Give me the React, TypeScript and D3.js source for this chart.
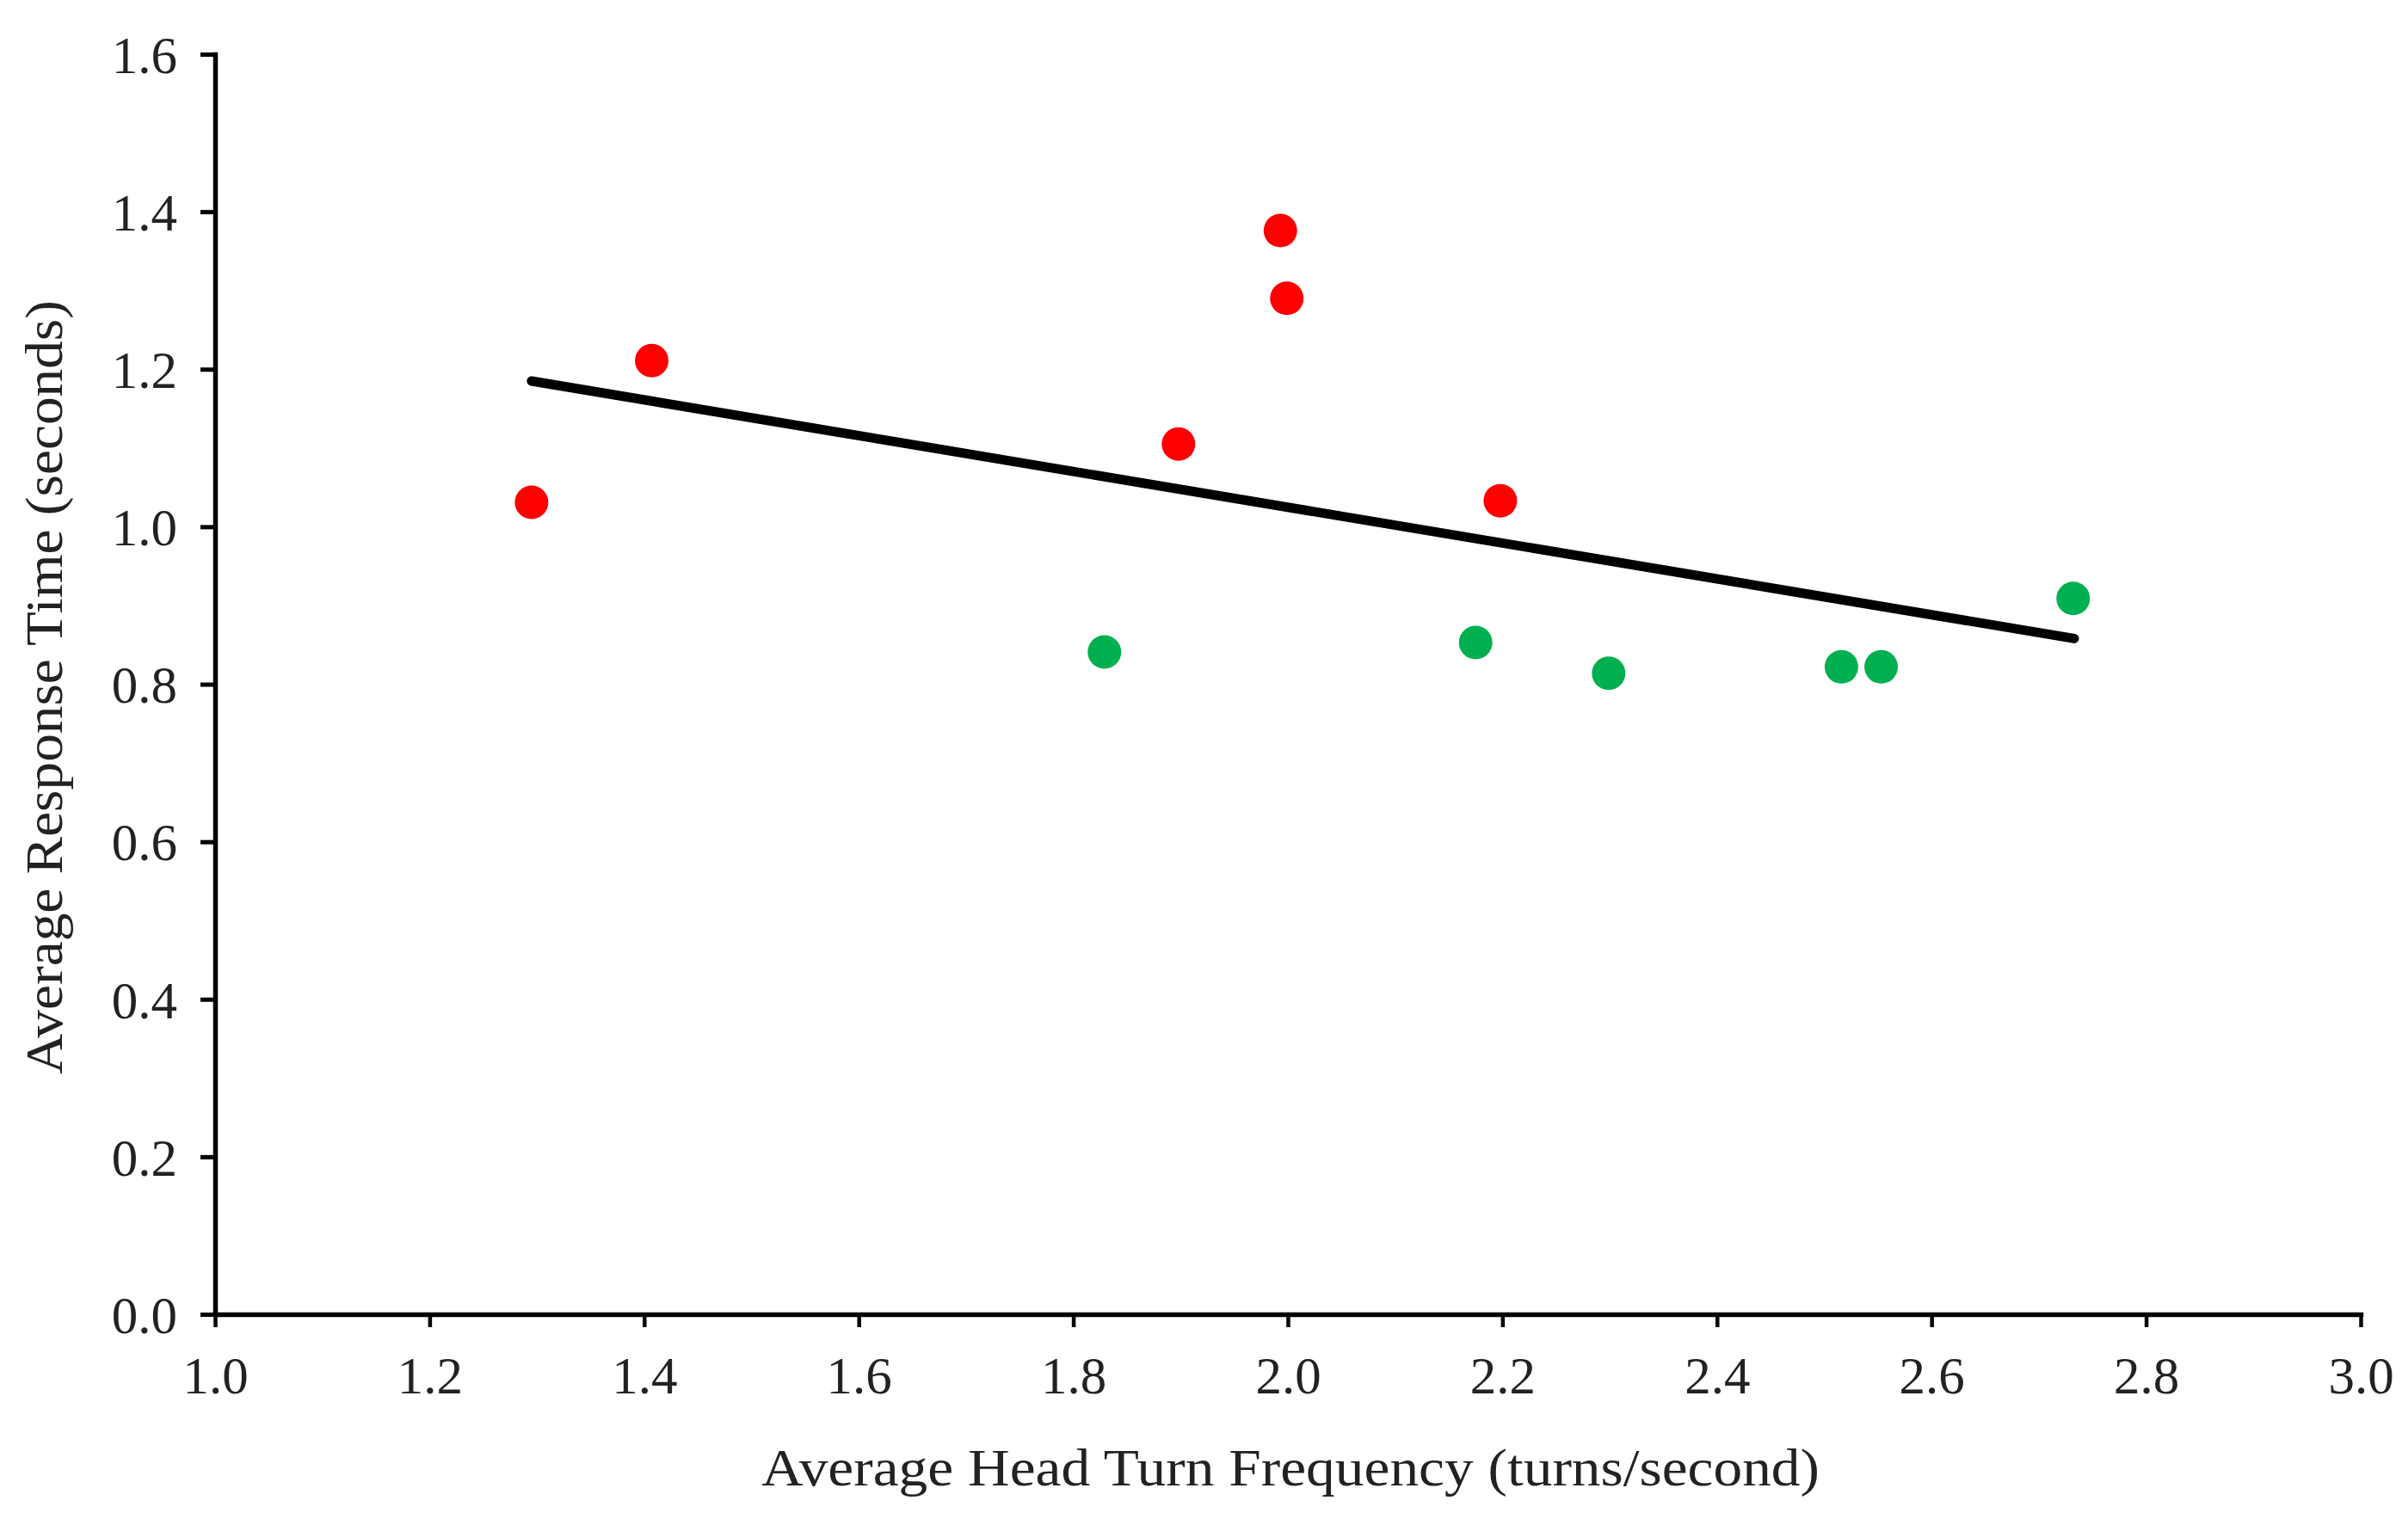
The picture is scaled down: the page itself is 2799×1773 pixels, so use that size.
import { useRef, useEffect } from "react";
import * as d3 from "d3";

// Participants with slower reactions (red) and faster reactions (green)
const redX = [1.295, 1.407, 1.898, 1.993, 1.999, 2.198];
const redY = [1.031, 1.211, 1.105, 1.376, 1.290, 1.033];
const greenX = [1.829, 2.175, 2.299, 2.516, 2.553, 2.732];
const greenY = [0.841, 0.853, 0.814, 0.822, 0.822, 0.909];

// Linear trend line end points
const trendX = [1.295, 2.733];
const trendY = [1.185, 0.858];

const xTicks = [1.0, 1.2, 1.4, 1.6, 1.8, 2.0, 2.2, 2.4, 2.6, 2.8, 3.0];
const yTicks = [0.0, 0.2, 0.4, 0.6, 0.8, 1.0, 1.2, 1.4, 1.6];

const xTitle = "Average Head Turn Frequency (turns/second)";
const yTitle = "Average Response Time (seconds)";

const WIDTH = 2799;
const HEIGHT = 1773;
const FONT = "'Liberation Serif', 'DejaVu Serif', serif";

export default function App() {
  const svgRef = useRef<SVGSVGElement>(null);

  const margin = { top: 63, right: 55, bottom: 245, left: 250 };
  const innerW = WIDTH - margin.left - margin.right;
  const innerH = HEIGHT - margin.top - margin.bottom;

  useEffect(() => {
    document.body.style.margin = "0";
    if (!svgRef.current) return;

    const svg = d3.select(svgRef.current);
    svg.selectAll("*").remove();

    const g = svg
      .append("g")
      .attr("transform", `translate(${margin.left},${margin.top})`);

    const xScale = d3.scaleLinear().domain([1, 3]).range([0, innerW]);
    const yScale = d3.scaleLinear().domain([0, 1.6]).range([innerH, 0]);

    // Axes
    g.append("g")
      .attr("transform", `translate(0,${innerH})`)
      .call(d3.axisBottom(xScale).tickValues(xTicks).tickSize(15).tickSizeOuter(0).tickFormat(d3.format(".1f")))
      .call(a => a.select(".domain").attr("stroke", "#000").attr("stroke-width", 5.5).attr("stroke-linecap", "square"))
      .call(a => a.selectAll(".tick line").attr("stroke", "#000").attr("stroke-width", 4.5))
      .call(a => a.selectAll(".tick text")
        .attr("fill", "#222")
        .attr("font-family", FONT)
        .attr("font-size", "61px")
        .attr("y", 92)
        .attr("dy", 0));

    g.append("g")
      .call(d3.axisLeft(yScale).tickValues(yTicks).tickSize(17).tickSizeOuter(0).tickFormat(d3.format(".1f")))
      .call(a => a.select(".domain").attr("stroke", "#000").attr("stroke-width", 5.5).attr("stroke-linecap", "square"))
      .call(a => a.selectAll(".tick line").attr("stroke", "#000").attr("stroke-width", 5))
      .call(a => a.selectAll(".tick text")
        .attr("fill", "#222")
        .attr("font-family", FONT)
        .attr("font-size", "61px")
        .attr("x", -44)
        .attr("dy", "0.35em"));

    // Trend line
    const trend = trendX.map((x, i) => [x, trendY[i]] as [number, number]);
    g.append("path")
      .datum(trend)
      .attr("fill", "none")
      .attr("stroke", "#000")
      .attr("stroke-width", 11)
      .attr("stroke-linecap", "round")
      .attr("d", d3.line<[number, number]>().x(d => xScale(d[0])).y(d => yScale(d[1])));

    // Points
    const groups = [
      { xs: redX, ys: redY, color: "#FF0000" },
      { xs: greenX, ys: greenY, color: "#00B050" },
    ];
    groups.forEach(s => {
      g.append("g")
        .selectAll("circle")
        .data(s.xs.map((x, i) => [x, s.ys[i]]))
        .join("circle")
        .attr("cx", d => xScale(d[0]))
        .attr("cy", d => yScale(d[1]))
        .attr("r", 19.5)
        .attr("fill", s.color);
    });

    // Axis titles
    svg.append("text")
      .attr("x", margin.left + innerW / 2 + 3)
      .attr("y", 1727)
      .attr("text-anchor", "middle")
      .attr("fill", "#222")
      .attr("font-family", FONT)
      .attr("font-size", "62px")
      .attr("textLength", 1230)
      .attr("lengthAdjust", "spacingAndGlyphs")
      .text(xTitle);

    svg.append("text")
      .attr("transform", `translate(72,799) rotate(-90)`)
      .attr("text-anchor", "middle")
      .attr("fill", "#222")
      .attr("font-family", FONT)
      .attr("font-size", "62px")
      .attr("textLength", 900)
      .attr("lengthAdjust", "spacingAndGlyphs")
      .text(yTitle);
  }, []);

  return (
    <svg
      ref={svgRef}
      width={WIDTH}
      height={HEIGHT}
      viewBox={`0 0 ${WIDTH} ${HEIGHT}`}
      style={{ display: "block", background: "#fff" }}
    />
  );
}
